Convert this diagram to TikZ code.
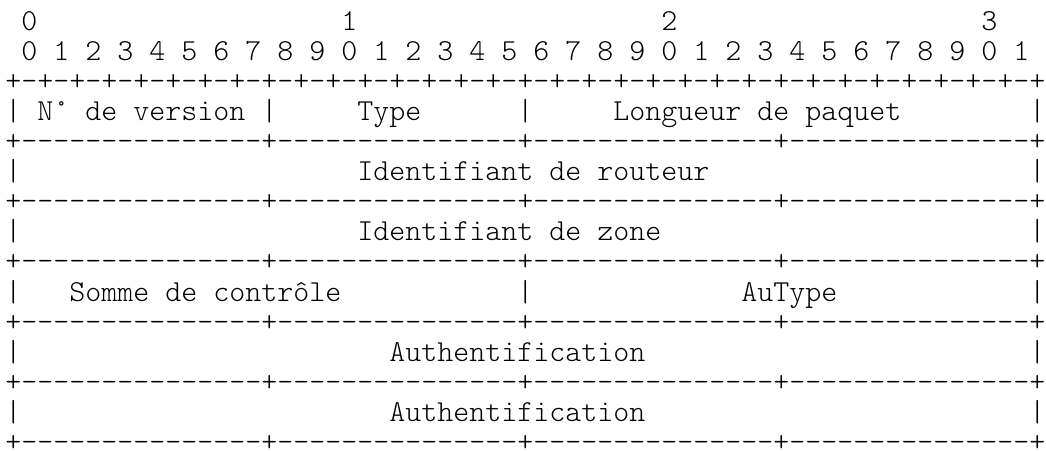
\documentclass[tikz,border=0pt]{standalone}
\usepackage{tikz}
\tikzset{
  txt/.style={anchor=base west, inner sep=0pt, outer sep=0pt, text=black,
    font=\ttfamily\fontseries{l}\fontsize{30.476}{30}\selectfont},
}
\newcommand\Tx[3]{\node[txt] (t-#1-#2) at ({5.3+16*#1},{419-30*(#2-1)}) {#3};}
\newcommand\SepA[1]{\node[txt] (sep-#1) at (5.3,{419-30*(#1-1)}) {\foreach \i in {1,...,32}{+-\kern0pt}+};}
\newcommand\SepB[1]{\node[txt] (sep-#1) at (5.3,{419-30*(#1-1)}) {\foreach \i in {1,...,4}{+\foreach \j in {1,...,15}{-\kern0pt}}+};}
\begin{document}
\begin{tikzpicture}[x=1pt,y=1pt]
\fill[white] (0,0) rectangle (1046,450);
\useasboundingbox (0,0) rectangle (1046,450);
% row 1
\Tx{1}{1}{0}
\Tx{21}{1}{1}
\Tx{41}{1}{2}
\Tx{61}{1}{3}
% row 2
\Tx{1}{2}{0 1 2 3 4 5 6 7 8 9 0 1 2 3 4 5 6 7 8 9 0 1 2 3 4 5 6 7 8 9 0 1}
% row 3
\SepA{3}
% row 4
\Tx{0}{4}{|}
\Tx{2}{4}{N° de version}
\Tx{16}{4}{|}
\Tx{22}{4}{Type}
\Tx{32}{4}{|}
\Tx{38}{4}{Longueur de paquet}
\Tx{64}{4}{|}
\SepB{5}
% row 6
\Tx{0}{6}{|}
\Tx{22}{6}{Identifiant de routeur}
\Tx{64}{6}{|}
\SepB{7}
% row 8
\Tx{0}{8}{|}
\Tx{22}{8}{Identifiant de zone}
\Tx{64}{8}{|}
\SepB{9}
% row 10
\Tx{0}{10}{|}
\Tx{4}{10}{Somme de contrôle}
\Tx{32}{10}{|}
\Tx{46}{10}{AuType}
\Tx{64}{10}{|}
\SepB{11}
% row 12
\Tx{0}{12}{|}
\Tx{24}{12}{Authentification}
\Tx{64}{12}{|}
\SepB{13}
% row 14
\Tx{0}{14}{|}
\Tx{24}{14}{Authentification}
\Tx{64}{14}{|}
\SepB{15}
\end{tikzpicture}
\end{document}
